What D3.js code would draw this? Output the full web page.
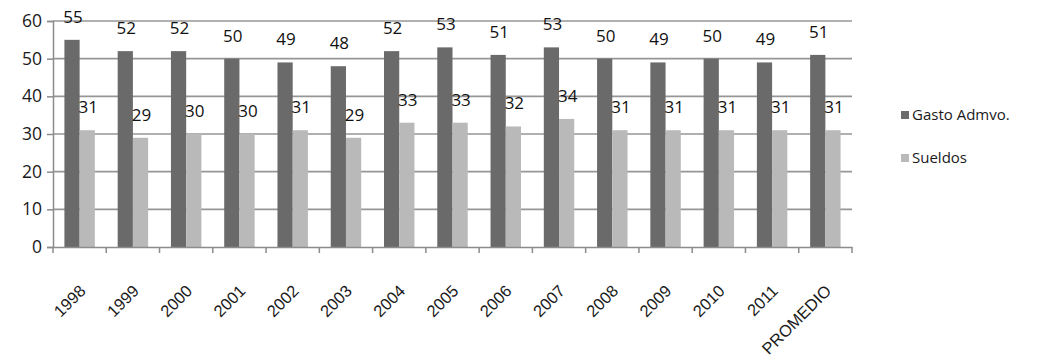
<!DOCTYPE html>
<html>
<head>
<meta charset="utf-8">
<script src="https://cdn.jsdelivr.net/npm/d3@7/dist/d3.min.js"></script>
<style>
  html, body { margin: 0; padding: 0; background: #fff; }
  svg { display: block; font-family: "Open Sans", Lato, "Liberation Sans", sans-serif; }
</style>
</head>
<body>
<svg id="chart" width="1038" height="360"></svg>
<script>
// Administrative spending vs. salaries, by year plus the average
const categories = ["1998","1999","2000","2001","2002","2003","2004","2005","2006","2007","2008","2009","2010","2011","PROMEDIO"];
const gastoAdmvo = [55,52,52,50,49,48,52,53,51,53,50,49,50,49,51];
const sueldos    = [31,29,30,30,31,29,33,33,32,34,31,31,31,31,31];
const seriesNames = ["Gasto Admvo.", "Sueldos"];
const seriesColors = ["#6a6a6a", "#b9b9b9"];
const yTicks = [0,10,20,30,40,50,60];

const series = [gastoAdmvo, sueldos];
const svg = d3.select("#chart");
const margin = { left: 53, right: 186, top: 21, bottom: 113 };
const W = 1038, H = 360;

const x = d3.scaleBand().domain(categories).range([margin.left, W - margin.right]).paddingInner(0).paddingOuter(0);
const y = d3.scaleLinear().domain([0, 60]).range([H - margin.bottom, margin.top]);

// bars occupy 2 of 3.5 units per category (gap width 150%)
const barW = x.bandwidth() / 3.5;
const x1 = d3.scaleBand().domain(d3.range(series.length))
  .range([x.bandwidth() * 0.75 / 3.5, x.bandwidth() * 0.75 / 3.5 + 2 * barW]);

// gridlines
svg.append("g").selectAll("line").data(yTicks.filter(t => t > 0)).join("line")
  .attr("x1", margin.left).attr("x2", W - margin.right)
  .attr("y1", d => y(d)).attr("y2", d => y(d))
  .attr("stroke", "#969696").attr("stroke-width", 1.6);

// y axis
const yAxis = svg.append("g").attr("transform", `translate(${margin.left},0)`)
  .call(d3.axisLeft(y).tickValues(yTicks).tickSize(6).tickPadding(5).tickFormat(d3.format("d")));
yAxis.select(".domain").attr("stroke", "#8c8c8c").attr("stroke-width", 1.5);
yAxis.selectAll(".tick line").attr("stroke", "#8c8c8c").attr("stroke-width", 1.5);
yAxis.selectAll("text").attr("font-size", 17.5).attr("fill", "#1a1a1a")
  .attr("font-family", "'Open Sans', Lato, sans-serif");

// bars
const groups = svg.append("g").selectAll("g").data(categories).join("g")
  .attr("transform", d => `translate(${x(d)},0)`);
groups.selectAll("rect").data((d, i) => series.map((s, k) => ({ k, v: s[i] }))).join("rect")
  .attr("x", d => x1(d.k)).attr("width", x1.bandwidth())
  .attr("y", d => y(d.v)).attr("height", d => y(0) - y(d.v))
  .attr("fill", d => seriesColors[d.k]);

// value labels
groups.selectAll("text").data((d, i) => series.map((s, k) => ({ k, v: s[i] }))).join("text")
  .attr("x", d => x1(d.k) + x1.bandwidth() / 2 + 1)
  .attr("y", d => y(d.v) - 17)
  .attr("text-anchor", "middle")
  .attr("font-size", 17).attr("fill", "#111")
  .text(d => d.v);

// x axis
const xAxis = svg.append("g").attr("transform", `translate(0,${y(0)})`)
  .call(d3.axisBottom(x).tickSize(0).tickPadding(0));
xAxis.select(".domain").attr("stroke", "#8c8c8c").attr("stroke-width", 1.5);
xAxis.selectAll(".tick text")
  .attr("font-size", 16.5).attr("fill", "#1a1a1a")
  .attr("text-anchor", "end")
  .attr("dy", 0)
  .attr("transform", "translate(7,45) rotate(-45)");
// boundary tick marks between categories
const bounds = categories.map(c => x(c)).concat([W - margin.right]);
svg.append("g").selectAll("line").data(bounds).join("line")
  .attr("x1", d => d).attr("x2", d => d)
  .attr("y1", y(0)).attr("y2", y(0) + 6)
  .attr("stroke", "#8c8c8c").attr("stroke-width", 1.5);

// legend
const legend = svg.append("g").selectAll("g").data(seriesNames).join("g")
  .attr("transform", (d, i) => `translate(901,${115 + i * 43})`);
legend.append("rect").attr("x", 0).attr("y", -4).attr("width", 8).attr("height", 8)
  .attr("fill", (d, i) => seriesColors[i]);
legend.append("text").attr("x", 11).attr("y", 0).attr("dy", "0.35em")
  .attr("font-size", 15).attr("fill", "#1a1a1a").text(d => d);
</script>
</body>
</html>
